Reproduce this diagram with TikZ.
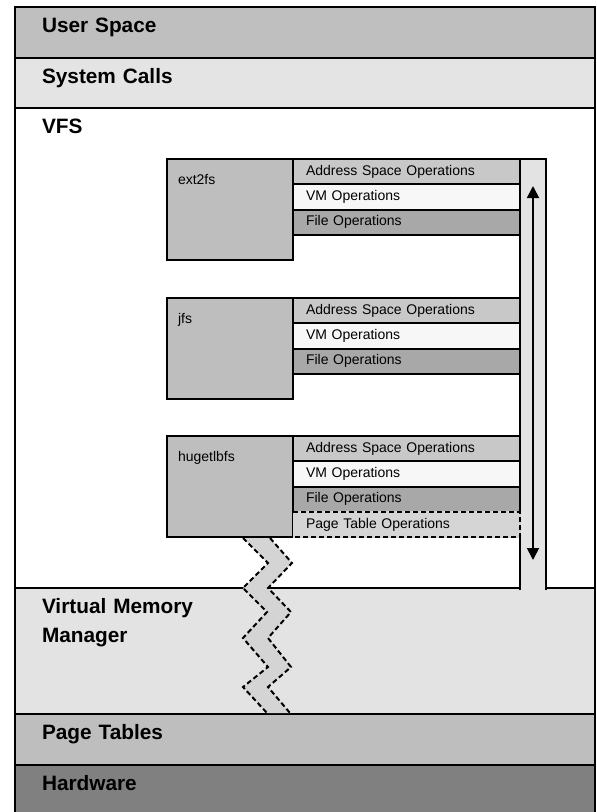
\documentclass[tikz,border=0pt]{standalone}
\usepackage{fontspec}
\setmainfont{Liberation Sans}
\usetikzlibrary{arrows.meta, positioning}

\definecolor{usfill}{gray}{0.75}
\definecolor{scfill}{gray}{0.895}
\definecolor{vmmfill}{gray}{0.89}
\definecolor{ptfill}{gray}{0.745}
\definecolor{hwfill}{gray}{0.5}
\definecolor{boxfill}{gray}{0.745}
\definecolor{asfill}{gray}{0.785}
\definecolor{vmfill}{gray}{0.97}
\definecolor{fofill}{gray}{0.66}
\definecolor{ptofill}{gray}{0.835}
\definecolor{zigfill}{gray}{0.83}

\begin{document}
\begin{tikzpicture}[
    x=1pt, y=-1pt,
    line width=2pt,
band/.style  = {draw, outer sep=0pt, minimum width=580pt, text width=526pt,
                inner xsep=27pt, inner ysep=0pt, align=left, text height=25pt,
                font=\fontsize{20.8}{29}\selectfont\bfseries},
fsbox/.style = {draw, fill=boxfill, outer sep=0pt, text width=104pt,
                inner xsep=11pt, inner ysep=0pt, align=left,
                text height=25pt, text depth=76pt,
                font=\fontsize{14}{16}\selectfont},
oprow/.style = {draw, outer sep=0pt, minimum height=25.3pt, text width=201pt,
                inner xsep=13pt, inner ysep=0pt, align=left,
                text height=10pt, text depth=3pt,
                font=\fontsize{14}{16}\selectfont},
dashline/.style = {line width=2pt, dash pattern=on 5pt off 3pt},
updown/.style = {line width=1.8pt,
                 {Triangle[length=12pt,width=12pt]}-{Triangle[length=12pt,width=12pt]}}
                        ]
\useasboundingbox (0,0) rectangle (597,812);
% layers
\node (us)  [band, fill=usfill, text depth=26pt, anchor=north west] at (15,7) {User Space};
\node (sc)  [band, fill=scfill, text depth=25pt, below=0pt of us]  {System Calls};
\node (vfs) [band, fill=white, text depth=455pt, below=0pt of sc]  {VFS};
\node (vmm) [band, fill=vmmfill, text depth=101pt, below=0pt of vfs] {Virtual Memory\\Manager};
\node (pt)  [band, fill=ptfill, text depth=26pt, below=0pt of vmm] {Page Tables};
\node (hw)  [band, fill=hwfill, text depth=23pt, below=0pt of pt]  {Hardware};
%
\node (chan) [fill=vmmfill, minimum width=26pt, minimum height=431pt, inner sep=0pt,
              outer sep=0pt, anchor=north west] at (520,159) {};
\draw (chan.south west) -- (chan.north west) -- (chan.north east) -- (chan.south east);
\draw[updown] ([yshift=-27pt] chan.north) -- ([yshift=30pt] chan.south);
%
\fill[zigfill] (243,538) -- (268,563) -- (243,588) -- (267,612) -- (243,638)
    -- (268,667) -- (243,687) -- (267,713) -- (290,713) -- (268,687) -- (291,667)
    -- (268,638) -- (291,612) -- (268,588) -- (292,563) -- (270,538) -- cycle;
\draw[dashline] (243,538) -- (268,563) -- (243,588) -- (267,612) -- (243,638)
    -- (268,667) -- (243,687) -- (267,713);
\draw[dashline] (270,538) -- (292,563) -- (268,588) -- (291,612) -- (268,638)
    -- (291,667) -- (268,687) -- (290,713);
% file systems
\node (ext2) [fsbox, anchor=north west] at (167,159) {ext2fs};
\node (jfs)  [fsbox, below=38pt of ext2] {jfs};
\node (huge) [fsbox, below=37pt of jfs]  {hugetlbfs};
%
\foreach \fs in {ext2, jfs, huge} {
  \node (\fs-as) [oprow, fill=asfill, anchor=north west] at (\fs.north east)
        {Address Space Operations};
  \node (\fs-vm) [oprow, fill=vmfill, below=0pt of \fs-as] {VM Operations};
  \node (\fs-fo) [oprow, fill=fofill, below=0pt of \fs-vm] {File Operations};
}
\node (huge-pt) [oprow, draw=none, fill=ptofill, below=0pt of huge-fo] {Page Table Operations};
\draw[dashline, preaction={draw=ptofill, solid}]
    (huge-pt.north west) -- (huge-pt.north east) -- (huge-pt.south east) -- (huge-pt.south west);
    \end{tikzpicture}
\end{document}
